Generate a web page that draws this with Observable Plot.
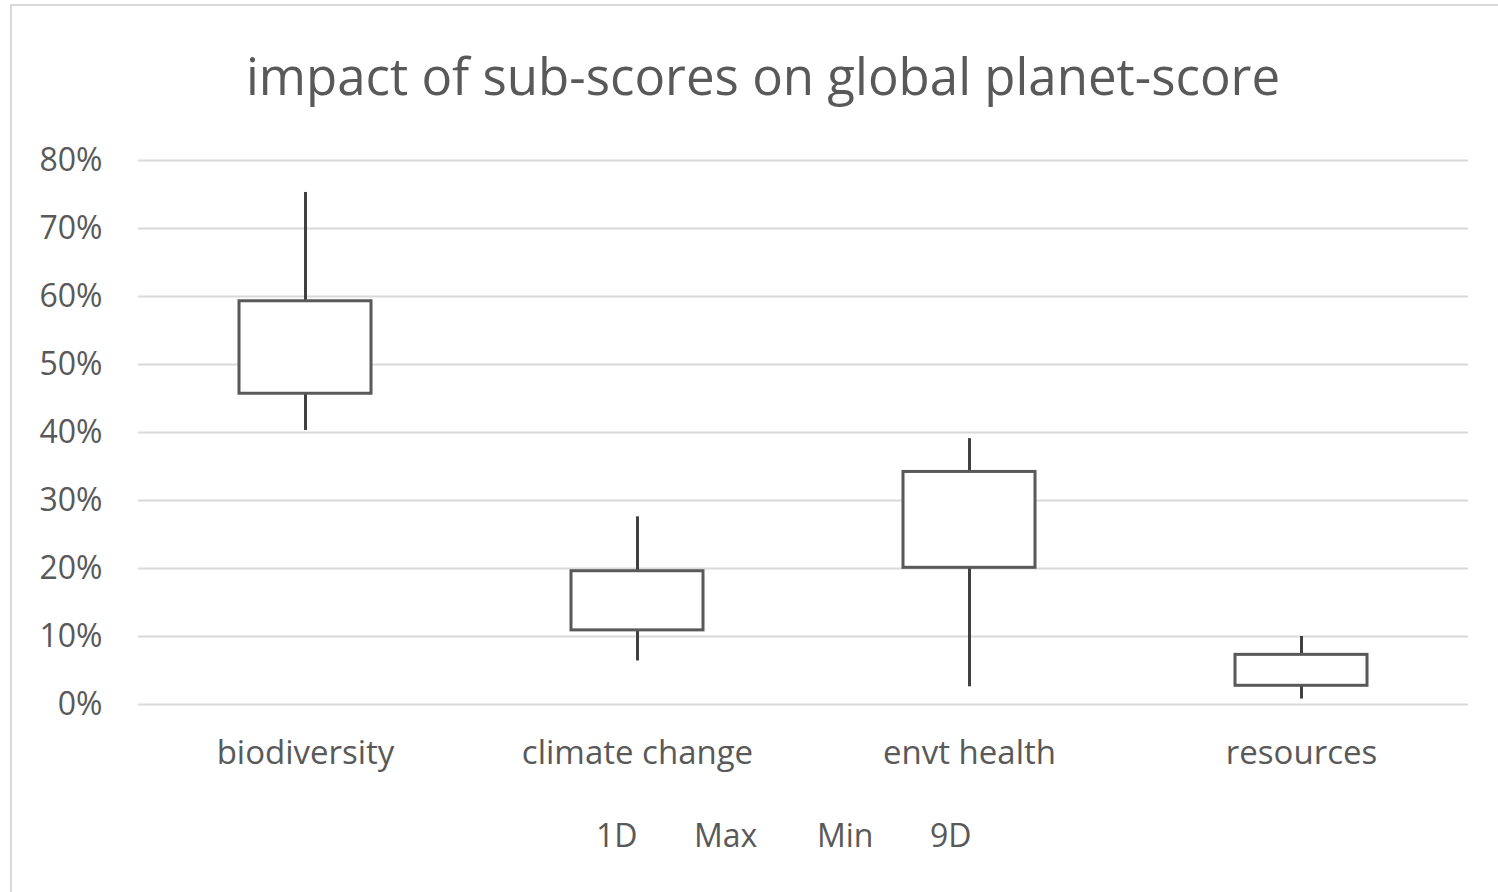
<!DOCTYPE html>
<html>
<head>
<meta charset="utf-8">
<script src="https://cdn.jsdelivr.net/npm/d3@7"></script>
<script src="https://cdn.jsdelivr.net/npm/@observablehq/plot@0.6"></script>
<style>
  html, body { margin: 0; padding: 0; background: #fff; }
  #wrap { position: relative; width: 1498px; height: 892px; overflow: hidden; font-family: "Open Sans", "Noto Sans", sans-serif; color: #595959; }
  #frame { position: absolute; left: 10px; top: 4px; width: 1500px; height: 900px; border: 2px solid #d9d9d9; box-sizing: border-box; }
  #title { position: absolute; left: 0; top: 40px; width: 1526px; text-align: center; font-size: 51px; line-height: 70px; }
  #chart { position: absolute; left: 0; top: 130px; }
  #legend { position: absolute; top: 813px; left: 0; width: 1498px; height: 44px; font-size: 32px; line-height: 44px; }
  #legend span { position: absolute; top: 0; }
</style>
</head>
<body>
<div id="wrap">
  <div id="frame"></div>
  <div id="title">impact of sub-scores on global planet-score</div>
  <div id="chart"></div>
  <div id="legend"></div>
</div>
<script>
const categories = ["biodiversity", "climate change", "envt health", "resources"];
const d1 = [0.457, 0.109, 0.201, 0.0275];   // 1D
const maxV = [0.753, 0.276, 0.391, 0.100];  // Max
const minV = [0.403, 0.064, 0.026, 0.008];  // Min
const d9 = [0.593, 0.196, 0.342, 0.073];    // 9D
const yTicks = [0, 0.1, 0.2, 0.3, 0.4, 0.5, 0.6, 0.7, 0.8];
const legendLabels = ["1D", "Max", "Min", "9D"];

const data = categories.map((c, i) => ({cat: c, d1: d1[i], max: maxV[i], min: minV[i], d9: d9[i]}));

const plot = Plot.plot({
  width: 1498,
  height: 660,
  marginLeft: 138,
  marginRight: 30,
  marginTop: 30,
  marginBottom: 86,
  style: {fontFamily: '"Open Sans", "Noto Sans", sans-serif', color: "#595959", background: "transparent"},
  x: {domain: categories, padding: 0, label: null},
  y: {domain: [0, 0.8], label: null},
  marks: [
    Plot.gridY(yTicks, {stroke: "#d9d9d9", strokeOpacity: 1, strokeWidth: 2}),
    Plot.axisY(yTicks, {tickSize: 0, tickPadding: 36, fontSize: 32, fill: "#595959", tickFormat: d3.format(".0%"), label: null}),
    Plot.axisX({tickSize: 0, tickPadding: 36, fontSize: 33, fill: "#595959", label: null}),
    Plot.ruleX(data, {x: "cat", y1: "min", y2: "max", stroke: "#404040", strokeWidth: 3}),
    Plot.barY(data, {x: "cat", y1: "d1", y2: "d9", fill: "white", stroke: "#595959", strokeWidth: 3, insetLeft: 100, insetRight: 100})
  ]
});
document.getElementById("chart").appendChild(plot);

const legendX = [596, 694, 817, 930];
const leg = document.getElementById("legend");
legendLabels.forEach((t, i) => {
  const s = document.createElement("span");
  s.textContent = t;
  s.style.left = legendX[i] + "px";
  leg.appendChild(s);
});
</script>
</body>
</html>
